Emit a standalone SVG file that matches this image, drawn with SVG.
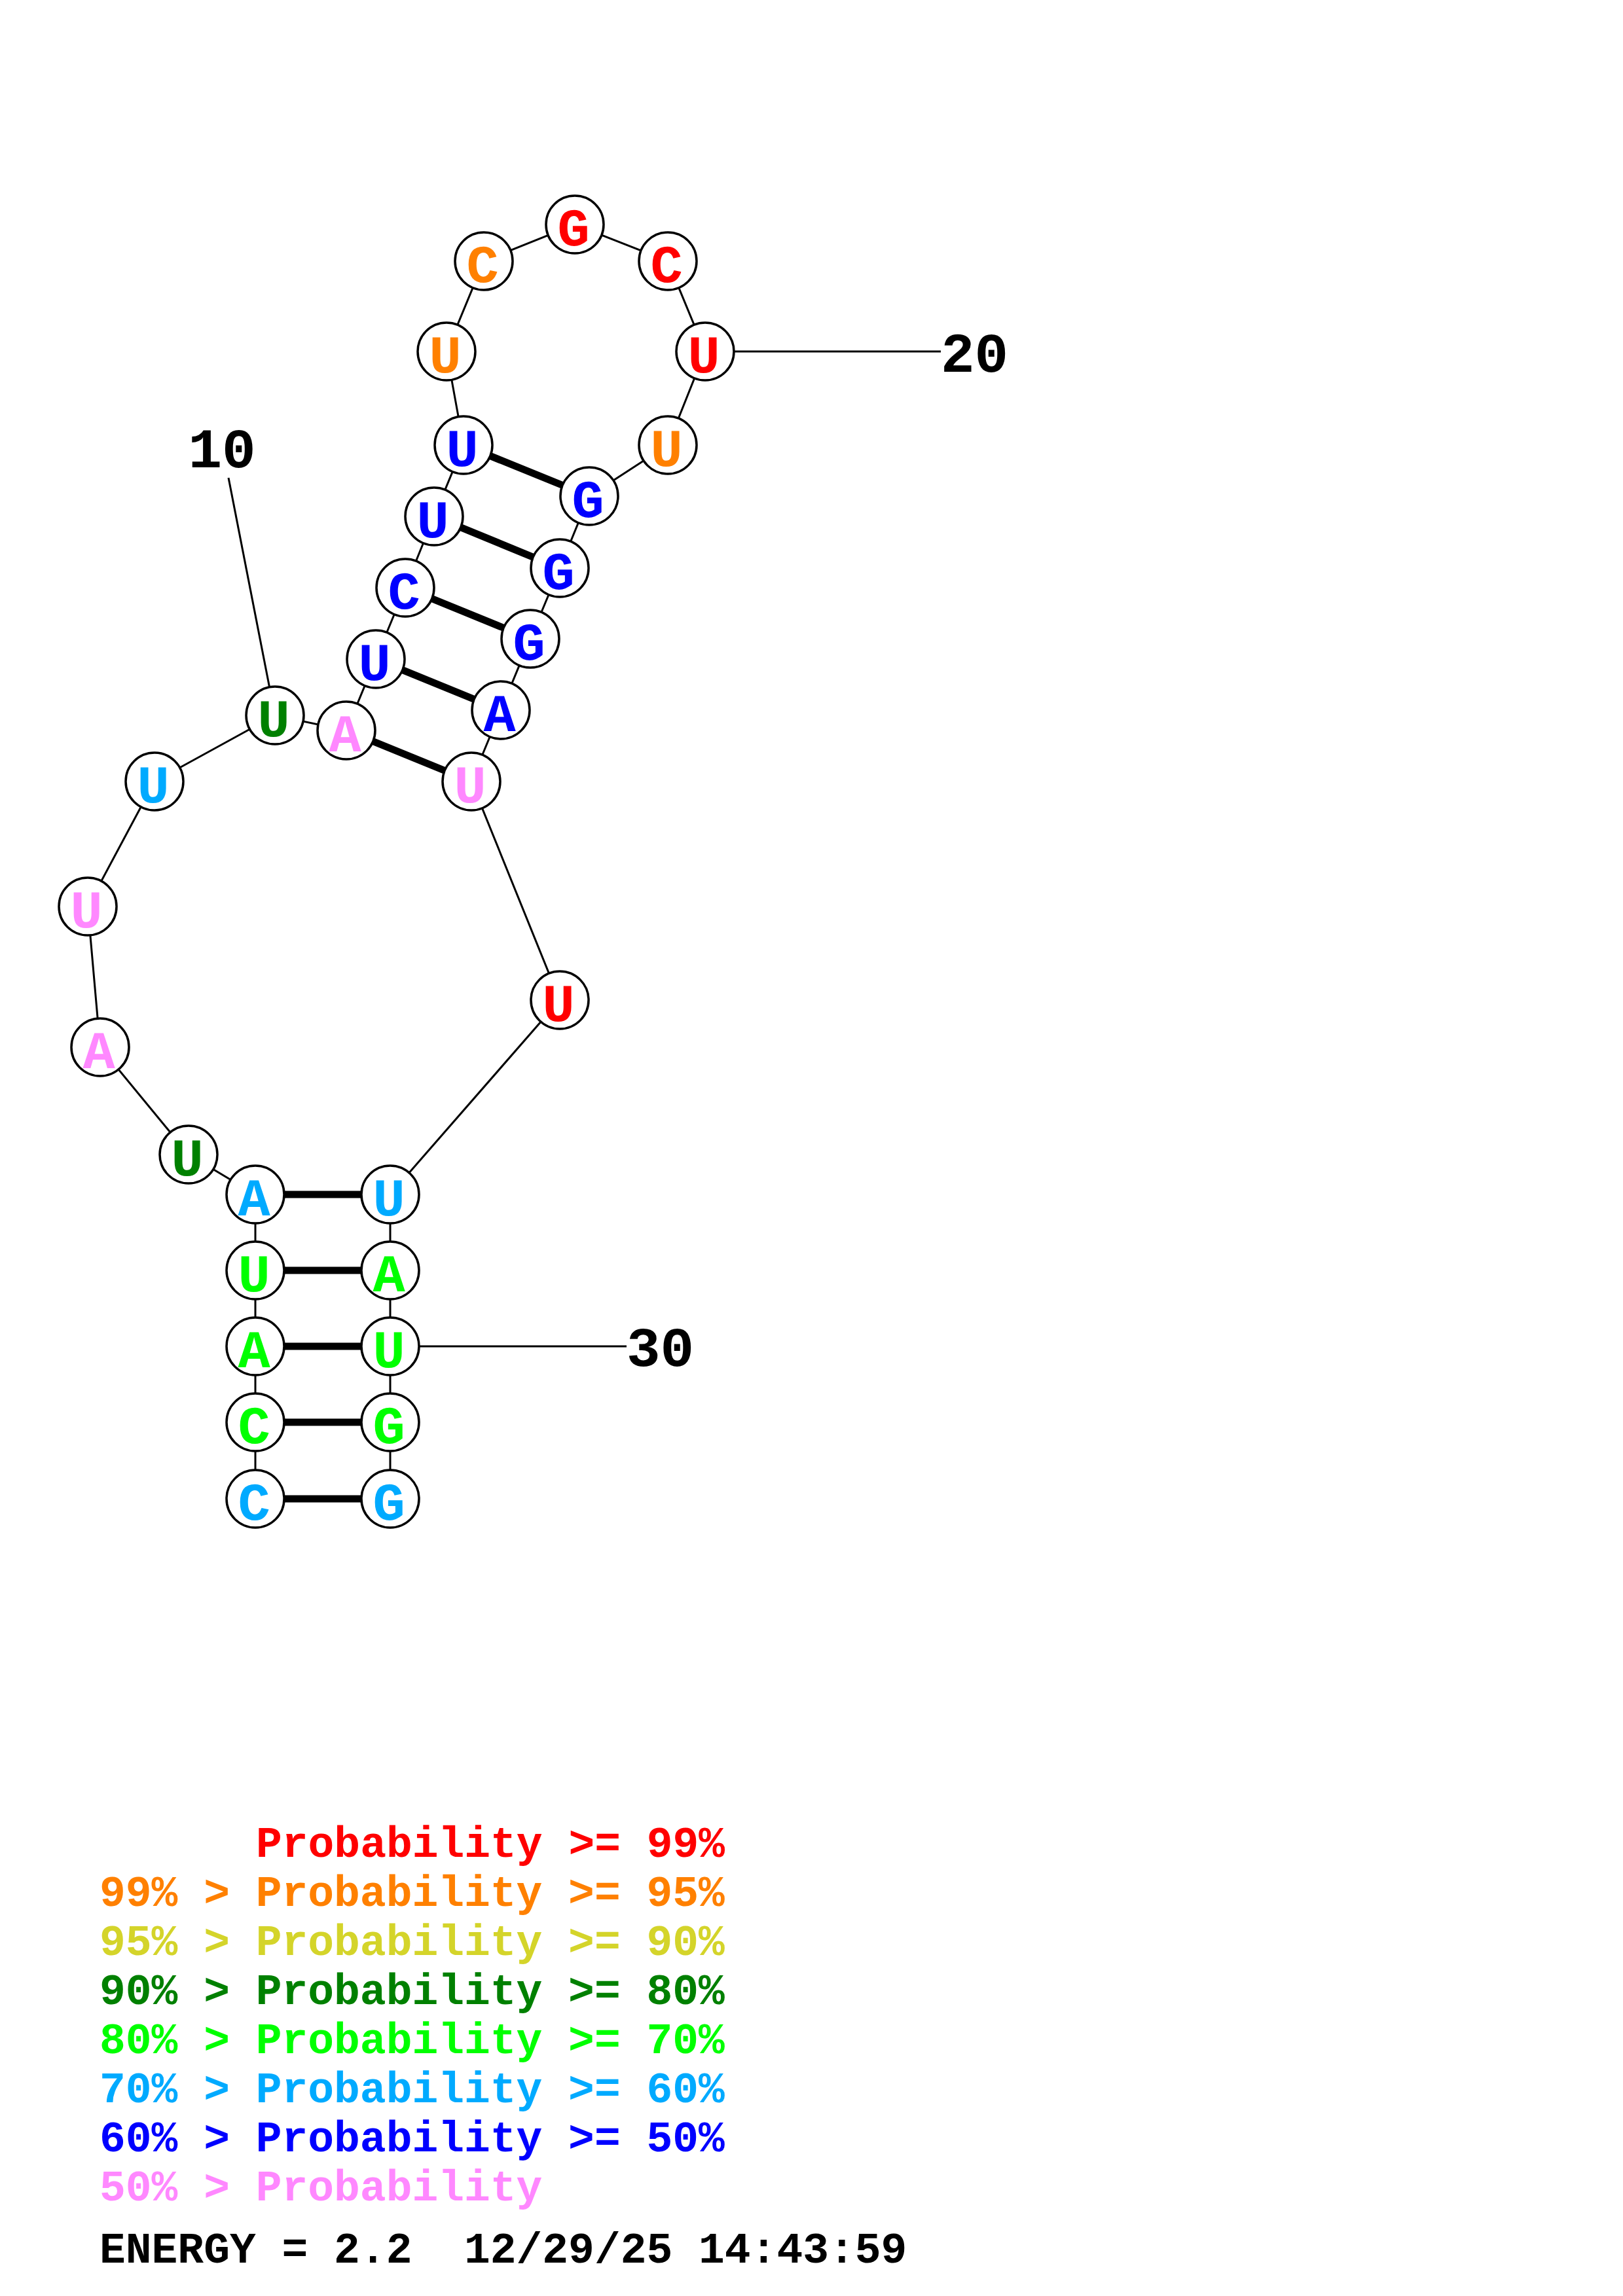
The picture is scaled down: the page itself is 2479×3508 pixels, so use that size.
<svg xmlns="http://www.w3.org/2000/svg" width="2479" height="3508" viewBox="0 0 2479 3508">
<style>
.bb{stroke:#000;stroke-width:3;fill:none}
.bp{stroke:#000;stroke-width:11;fill:none}
.nc{fill:#fff;stroke:#000;stroke-width:3.5}
.nt{font-family:"Liberation Mono","DejaVu Sans Mono",monospace;font-weight:bold;font-size:82px;text-anchor:middle}
.lb{font-family:"Liberation Mono","DejaVu Sans Mono",monospace;font-weight:bold;font-size:86px;fill:#000}
.lg{font-family:"Liberation Mono","DejaVu Sans Mono",monospace;font-weight:bold;font-size:66.3px;white-space:pre}
.r{fill:#ff0000}.o{fill:#ff8000}.y{fill:#d4d42a}.dg{fill:#008000}.g{fill:#00ff00}.c{fill:#00aaff}.b{fill:#0000ff}.p{fill:#ff88ff}.k{fill:#000}
</style>
<rect width="2479" height="3508" fill="#fff"/>
<g id="connectors">
<polyline class="bb" points="390,2290 390,2173 390,2057 390,1941 390,1825 288,1764 153,1600 134,1385 236,1194 420,1093 529,1116 574,1007 619,898 663,789 708,680 682,537 739,399 878,343 1020,399 1077,537 1020,680 900,758 855,868 810,976 765,1085 720,1194 855,1528 596,1825 596,1941 596,2057 596,2173 596,2290"/>
<line class="bp" x1="390" y1="2290" x2="596" y2="2290"/>
<line class="bp" x1="390" y1="2173" x2="596" y2="2173"/>
<line class="bp" x1="390" y1="2057" x2="596" y2="2057"/>
<line class="bp" x1="390" y1="1941" x2="596" y2="1941"/>
<line class="bp" x1="390" y1="1825" x2="596" y2="1825"/>
<line class="bp" x1="529" y1="1116" x2="720" y2="1194"/>
<line class="bp" x1="574" y1="1007" x2="765" y2="1085"/>
<line class="bp" x1="619" y1="898" x2="810" y2="976"/>
<line class="bp" x1="663" y1="789" x2="855" y2="868"/>
<line class="bp" x1="708" y1="680" x2="900" y2="758"/>
<line class="bb" x1="349" y1="730" x2="420" y2="1093"/>
<line class="bb" x1="1077" y1="537" x2="1437" y2="537"/>
<line class="bb" x1="596" y1="2057" x2="957" y2="2057"/>
</g>
<g id="n1"><circle class="nc" cx="390" cy="2290" r="44"/><text class="nt c" x="388" y="2322">C</text></g>
<g id="n2"><circle class="nc" cx="390" cy="2173" r="44"/><text class="nt g" x="388" y="2205">C</text></g>
<g id="n3"><circle class="nc" cx="390" cy="2057" r="44"/><text class="nt g" x="388" y="2089">A</text></g>
<g id="n4"><circle class="nc" cx="390" cy="1941" r="44"/><text class="nt g" x="388" y="1973">U</text></g>
<g id="n5"><circle class="nc" cx="390" cy="1825" r="44"/><text class="nt c" x="388" y="1857">A</text></g>
<g id="n6"><circle class="nc" cx="288" cy="1764" r="44"/><text class="nt dg" x="286" y="1796">U</text></g>
<g id="n7"><circle class="nc" cx="153" cy="1600" r="44"/><text class="nt p" x="151" y="1632">A</text></g>
<g id="n8"><circle class="nc" cx="134" cy="1385" r="44"/><text class="nt p" x="132" y="1417">U</text></g>
<g id="n9"><circle class="nc" cx="236" cy="1194" r="44"/><text class="nt c" x="234" y="1226">U</text></g>
<g id="n10"><circle class="nc" cx="420" cy="1093" r="44"/><text class="nt dg" x="418" y="1125">U</text></g>
<g id="n11"><circle class="nc" cx="529" cy="1116" r="44"/><text class="nt p" x="527" y="1148">A</text></g>
<g id="n12"><circle class="nc" cx="574" cy="1007" r="44"/><text class="nt b" x="572" y="1039">U</text></g>
<g id="n13"><circle class="nc" cx="619" cy="898" r="44"/><text class="nt b" x="617" y="930">C</text></g>
<g id="n14"><circle class="nc" cx="663" cy="789" r="44"/><text class="nt b" x="661" y="821">U</text></g>
<g id="n15"><circle class="nc" cx="708" cy="680" r="44"/><text class="nt b" x="706" y="712">U</text></g>
<g id="n16"><circle class="nc" cx="682" cy="537" r="44"/><text class="nt o" x="680" y="569">U</text></g>
<g id="n17"><circle class="nc" cx="739" cy="399" r="44"/><text class="nt o" x="737" y="431">C</text></g>
<g id="n18"><circle class="nc" cx="878" cy="343" r="44"/><text class="nt r" x="876" y="375">G</text></g>
<g id="n19"><circle class="nc" cx="1020" cy="399" r="44"/><text class="nt r" x="1018" y="431">C</text></g>
<g id="n20"><circle class="nc" cx="1077" cy="537" r="44"/><text class="nt r" x="1075" y="569">U</text></g>
<g id="n21"><circle class="nc" cx="1020" cy="680" r="44"/><text class="nt o" x="1018" y="712">U</text></g>
<g id="n22"><circle class="nc" cx="900" cy="758" r="44"/><text class="nt b" x="898" y="790">G</text></g>
<g id="n23"><circle class="nc" cx="855" cy="868" r="44"/><text class="nt b" x="853" y="900">G</text></g>
<g id="n24"><circle class="nc" cx="810" cy="976" r="44"/><text class="nt b" x="808" y="1008">G</text></g>
<g id="n25"><circle class="nc" cx="765" cy="1085" r="44"/><text class="nt b" x="763" y="1117">A</text></g>
<g id="n26"><circle class="nc" cx="720" cy="1194" r="44"/><text class="nt p" x="718" y="1226">U</text></g>
<g id="n27"><circle class="nc" cx="855" cy="1528" r="44"/><text class="nt r" x="853" y="1560">U</text></g>
<g id="n28"><circle class="nc" cx="596" cy="1825" r="44"/><text class="nt c" x="594" y="1857">U</text></g>
<g id="n29"><circle class="nc" cx="596" cy="1941" r="44"/><text class="nt g" x="594" y="1973">A</text></g>
<g id="n30"><circle class="nc" cx="596" cy="2057" r="44"/><text class="nt g" x="594" y="2089">U</text></g>
<g id="n31"><circle class="nc" cx="596" cy="2173" r="44"/><text class="nt g" x="594" y="2205">G</text></g>
<g id="n32"><circle class="nc" cx="596" cy="2290" r="44"/><text class="nt c" x="594" y="2322">G</text></g>
<g id="labels">
<text class="lb" x="339" y="714" text-anchor="middle">10</text>
<text class="lb" x="1437" y="568">20</text>
<text class="lb" x="957" y="2087">30</text>
</g>
<g id="legend">
<text class="lg r" x="391" y="2837">Probability &gt;= 99%</text>
<text class="lg o" x="152" y="2912">99% &gt; Probability &gt;= 95%</text>
<text class="lg y" x="152" y="2987">95% &gt; Probability &gt;= 90%</text>
<text class="lg dg" x="152" y="3062">90% &gt; Probability &gt;= 80%</text>
<text class="lg g" x="152" y="3137">80% &gt; Probability &gt;= 70%</text>
<text class="lg c" x="152" y="3212">70% &gt; Probability &gt;= 60%</text>
<text class="lg b" x="152" y="3287">60% &gt; Probability &gt;= 50%</text>
<text class="lg p" x="152" y="3362">50% &gt; Probability</text>
<text class="lg k" x="152" y="3457">ENERGY = 2.2  12/29/25 14:43:59</text>
</g>
</svg>
